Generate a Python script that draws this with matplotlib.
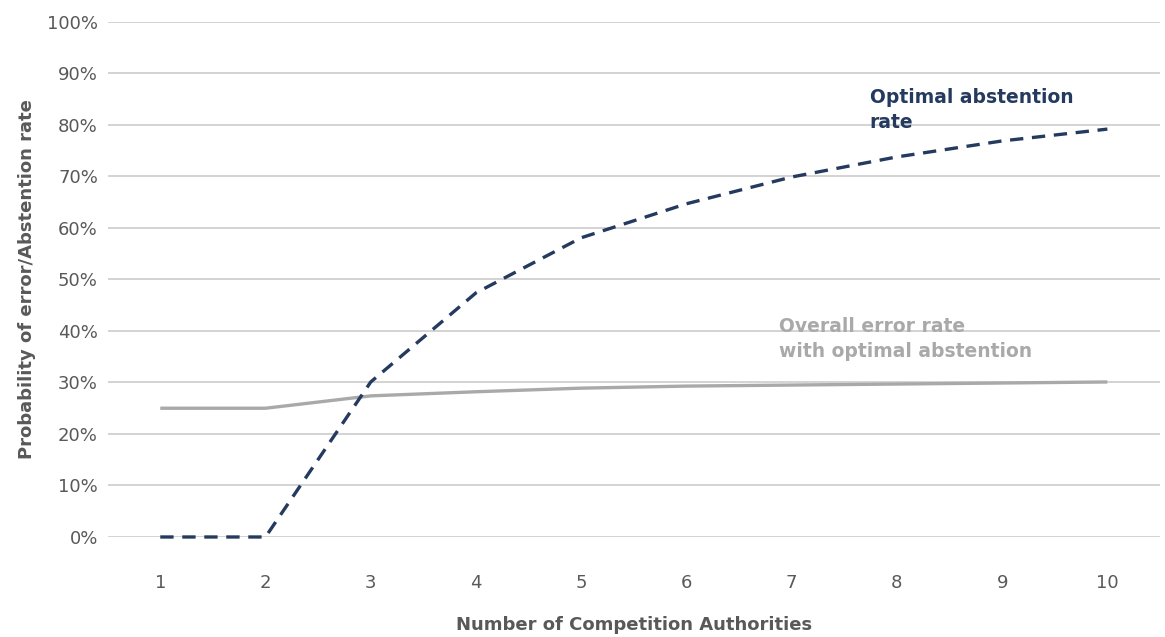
import matplotlib
matplotlib.use("Agg")
import matplotlib.pyplot as plt
from matplotlib.ticker import PercentFormatter

# data
authorities = [1, 2, 3, 4, 5, 6, 7, 8, 9, 10]
abstention = [0.0, 0.0, 30.1, 47.4, 58.1, 64.7, 69.9, 73.8, 76.9, 79.2]
error_rate = [25.0, 25.0, 27.4, 28.2, 28.9, 29.3, 29.5, 29.7, 29.9, 30.1]

plt.rcParams["font.family"] = ["DejaVu Sans"]

navy = "#243a5e"
grey_line = "#a9a9a9"
text_grey = "#595959"

fig = plt.figure(figsize=(11.65, 6.37), dpi=100)
ax = fig.add_axes([0.0924, 0.157, 0.9033, 0.8085])

ax.plot(authorities, error_rate, color=grey_line, lw=2.4, solid_capstyle="butt",
        clip_on=False)
# line sits on y=0, so don't let the axes clip half of it away
ax.plot(authorities, abstention, color=navy, lw=2.4, dashes=(4, 2.6), clip_on=False)

ax.set_xlim(0.5, 10.5)
ax.set_ylim(0, 100)
ax.set_yticks(range(0, 101, 10))
ax.set_xticks(authorities)
ax.yaxis.set_major_formatter(PercentFormatter(decimals=0))
ax.grid(axis="y", color="#d0d0d0", lw=1.3)
ax.set_axisbelow(True)
for s in ax.spines.values():
    s.set_visible(False)
ax.tick_params(length=0, labelsize=13, colors=text_grey)
ax.tick_params(axis="y", pad=7)
ax.tick_params(axis="x", pad=27)

ax.set_xlabel("Number of Competition Authorities", fontsize=13, color=text_grey,
              fontweight="bold", labelpad=17)
ax.set_ylabel("Probability of error/Abstention rate", fontsize=13, color=text_grey,
              fontweight="bold", labelpad=8)

ax.text(7.74, 87.2, "Optimal abstention\nrate", color=navy, fontsize=13.5,
        fontweight="bold", va="top", ha="left", linespacing=1.4)
ax.text(6.88, 42.8, "Overall error rate\nwith optimal abstention", color=grey_line,
        fontsize=13.5, fontweight="bold", va="top", ha="left", linespacing=1.4)

fig.savefig("out.png", dpi=100)
